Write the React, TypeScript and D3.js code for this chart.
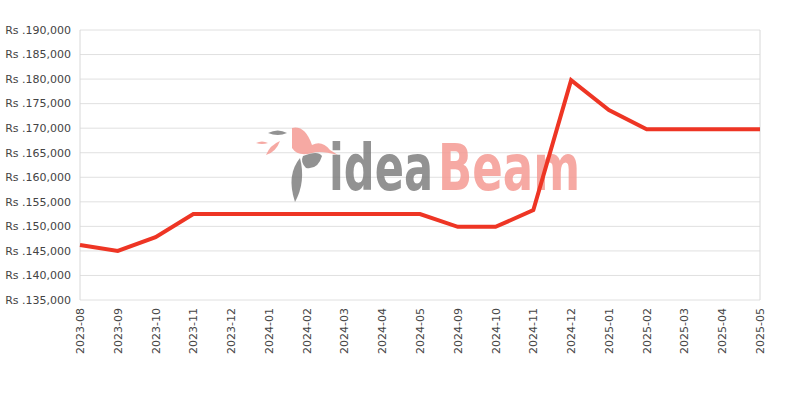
import React, { useLayoutEffect, useRef, useState } from "react";
import * as d3 from "d3";

const months = [
  "2023-08", "2023-09", "2023-10", "2023-11", "2023-12", "2024-01", "2024-02",
  "2024-03", "2024-04", "2024-05", "2024-09", "2024-10", "2024-11", "2024-12",
  "2025-01", "2025-02", "2025-03", "2025-04", "2025-05",
];
const prices = [
  146200, 145000, 147800, 152500, 152500, 152500, 152500, 152500, 152500,
  152500, 149900, 149900, 153300, 179800, 173700, 169800, 169800, 169800, 169800,
];
const yTicks = [135000, 140000, 145000, 150000, 155000, 160000, 165000, 170000, 175000, 180000, 185000, 190000];

const W = 800;
const H = 400;
const margin = { top: 30, right: 40, bottom: 100, left: 80 };

export default function App() {
  const ideaRef = useRef<SVGTextElement>(null);
  const beamRef = useRef<SVGTextElement>(null);
  const [sc, setSc] = useState({ idea: 0.85, beam: 0.85 });

  // squeeze the watermark words horizontally to fit the logo's width
  useLayoutEffect(() => {
    const wi = ideaRef.current?.getComputedTextLength() || 106;
    const wb = beamRef.current?.getComputedTextLength() || 144;
    setSc({ idea: 104 / wi, beam: 142 / wb });
  }, []);

  const x = d3
    .scalePoint()
    .domain(months)
    .range([margin.left, W - margin.right]);
  const y = d3
    .scaleLinear()
    .domain([135000, 190000])
    .range([H - margin.bottom, margin.top]);

  const line = d3
    .line<number>()
    .x((_, i) => x(months[i]))
    .y((d) => y(d));

  const fmt = (v: number) => "Rs ." + d3.format(",")(v);

  return (
    <div style={{ position: "absolute", left: 0, top: 0 }}>
      <svg width={W} height={H} style={{ display: "block" }} fontFamily="DejaVu Sans, sans-serif">
        <rect width={W} height={H} fill="#fff" />
        {yTicks.map((t) => (
          <g key={t}>
            <line x1={margin.left} x2={W - margin.right} y1={y(t)} y2={y(t)} stroke="#e0e0e0" strokeWidth={1} />
            <text x={margin.left - 9} y={y(t)} dy="0.35em" textAnchor="end" fontSize={11} fill="#444">
              {fmt(t)}
            </text>
          </g>
        ))}
        <line x1={margin.left} x2={margin.left} y1={margin.top} y2={H - margin.bottom} stroke="#d8d8d8" />
        <line x1={W - margin.right} x2={W - margin.right} y1={margin.top} y2={H - margin.bottom} stroke="#d8d8d8" />

        {/* watermark */}
        <g opacity={0.85}>
          <path d="M268,133 Q278,128 287,133 Q278,137 268,133 Z" fill="#7f7f7f" />
          <path d="M256,143 Q262,140 268,143 Q262,145 256,143 Z" fill="#f59b94" />
          <path d="M266,155 Q270,145 280,141 Q276,152 266,155 Z" fill="#f59b94" />
          <path d="M292,128 Q305,125 312,145 Q322,140 330,150 L338,155 Q320,150 312,153 Q298,157 292,148 Z" fill="#f59b94" />
          <path d="M303,156 Q318,150 322,156 Q318,170 306,168 Q300,162 303,156 Z" fill="#7f7f7f" />
          <path d="M300,158 Q286,175 295,202 Q306,182 300,158 Z" fill="#7f7f7f" />
          <g transform={`translate(329,190) scale(${sc.idea},1)`}>
            <text ref={ideaRef} fontSize={64} fontWeight="bold" fontFamily="DejaVu Sans Condensed, DejaVu Sans" fill="#7f7f7f">
              idea
            </text>
          </g>
          <g transform={`translate(438,190) scale(${sc.beam},1)`}>
            <text ref={beamRef} fontSize={64} fontWeight="bold" fontFamily="DejaVu Sans Condensed, DejaVu Sans" fill="#f59b94">
              Beam
            </text>
          </g>
        </g>

        <path d={line(prices) || ""} fill="none" stroke="#ee3524" strokeWidth={4} strokeLinejoin="miter" />

        {months.map((m) => (
          <text
            key={m}
            transform={`translate(${x(m)! + 4},${H - margin.bottom + 8}) rotate(-90)`}
            textAnchor="end"
            fontSize={11}
            fill="#444"
          >
            {m}
          </text>
        ))}
      </svg>
    </div>
  );
}
